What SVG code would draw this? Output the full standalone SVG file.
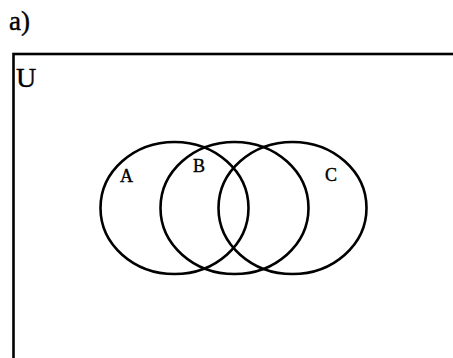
<svg xmlns="http://www.w3.org/2000/svg" width="453" height="358" viewBox="0 0 453 358">
<style>
.t{font-family:"Liberation Serif","Times New Roman",serif;fill:#000;stroke:#000;stroke-width:0.4}
.s{fill:none;stroke:#000;stroke-width:2.6}
</style>
<rect width="453" height="358" fill="#fff"/>
<text class="t" x="9" y="30" font-size="27">a)</text>
<g id="universe"><rect class="s" x="13.5" y="54" width="500" height="400" stroke-width="3"/><text class="t" x="16" y="87" font-size="28">U</text></g>
<g id="setA"><ellipse class="s" cx="174.5" cy="208" rx="74" ry="66"/><text class="t" x="120" y="182" font-size="18">A</text></g>
<g id="setB"><ellipse class="s" cx="234.5" cy="208" rx="74" ry="66"/><text class="t" x="193" y="172" font-size="18">B</text></g>
<g id="setC"><ellipse class="s" cx="292.5" cy="208" rx="74" ry="66"/><text class="t" x="325" y="181" font-size="18">C</text></g>
<g id="connectors"/>
</svg>
